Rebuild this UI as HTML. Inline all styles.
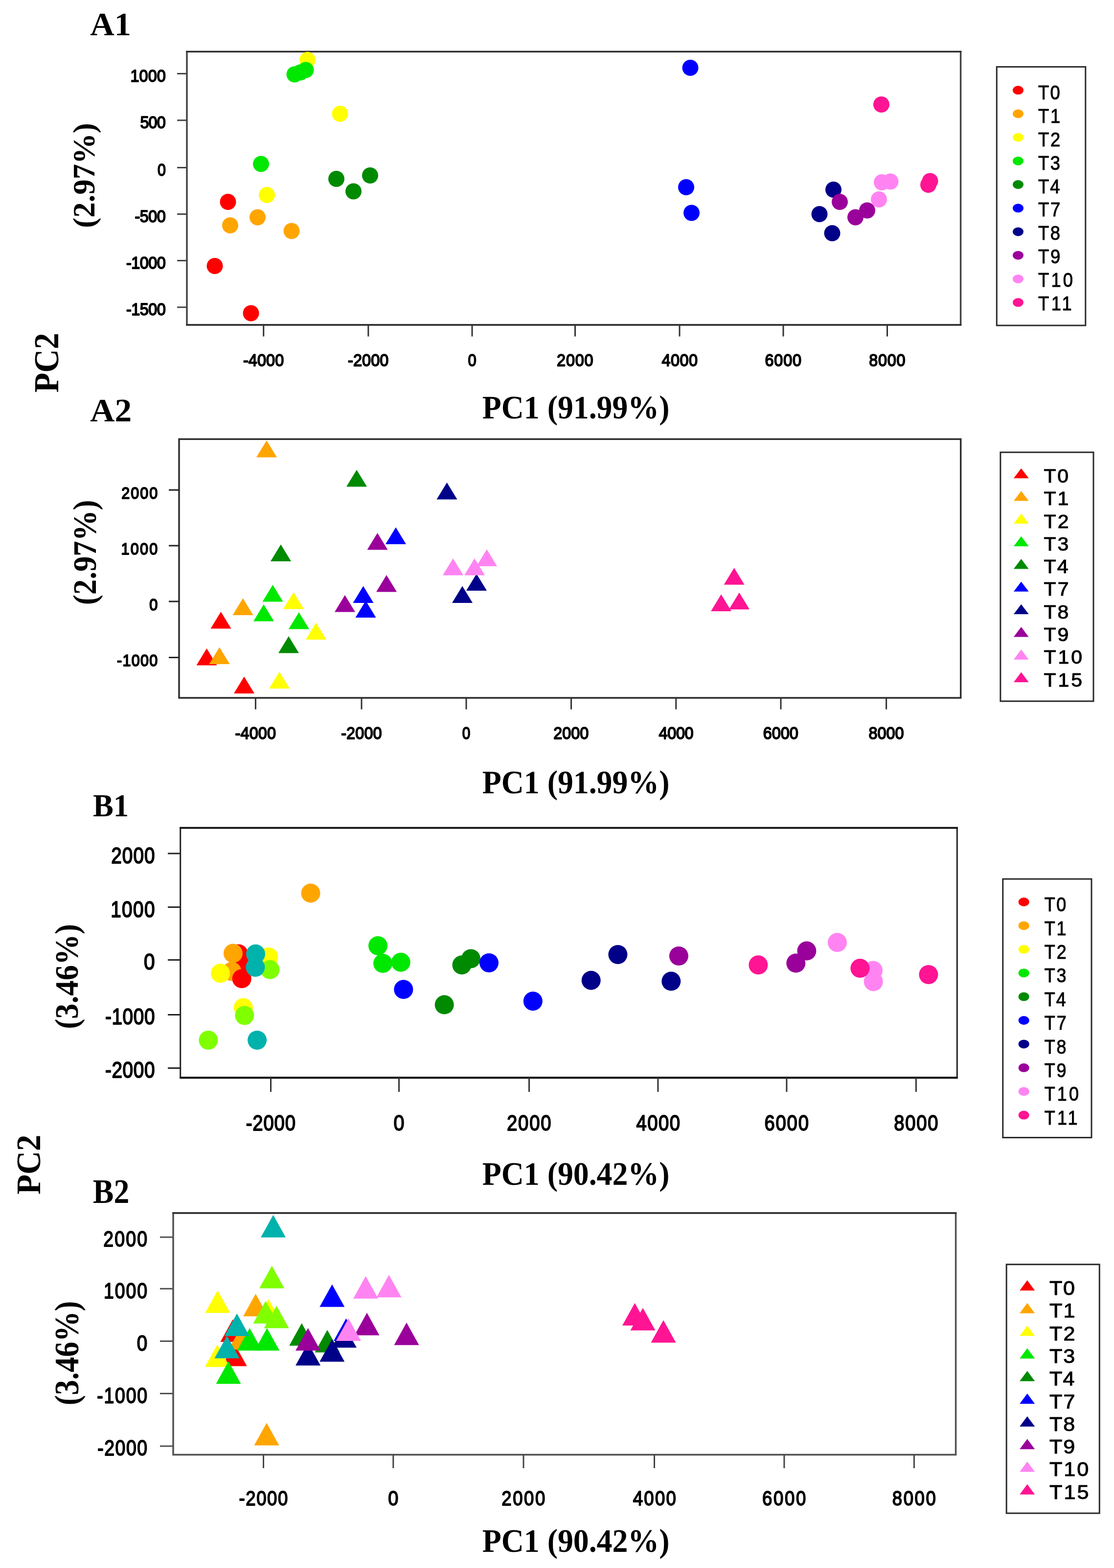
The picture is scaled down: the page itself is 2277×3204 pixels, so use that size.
<!DOCTYPE html>
<html><head><meta charset="utf-8"><title>PCA score plots</title>
<style>html,body{margin:0;padding:0;background:#fff;}svg{display:block;}</style>
</head><body>
<svg width="2277" height="3204" viewBox="0 0 2277 3204">
<rect width="2277" height="3204" fill="#fff"/>
<rect x="382.00" y="105.50" width="1581.60" height="558.30" fill="none" stroke="#444444" stroke-width="3.50"/>
<line x1="380.30" y1="105.50" x2="1965.30" y2="105.50" stroke="#2a2a2a" stroke-width="3.20"/>
<line x1="380.30" y1="663.80" x2="1965.30" y2="663.80" stroke="#333333" stroke-width="3.50"/>
<line x1="362.00" y1="150.50" x2="382.00" y2="150.50" stroke="#444444" stroke-width="3.00"/>
<text transform="scale(0.9000 1)" x="296.15" y="166.60" font-family='"Liberation Sans", Arial, sans-serif' font-weight="normal" font-size="36.00" letter-spacing="0.095" fill="#000" stroke="#000" stroke-width="2.00" stroke-linejoin="round">1000</text>
<line x1="362.00" y1="245.80" x2="382.00" y2="245.80" stroke="#444444" stroke-width="3.00"/>
<text transform="scale(0.9000 1)" x="318.23" y="261.90" font-family='"Liberation Sans", Arial, sans-serif' font-weight="normal" font-size="36.00" letter-spacing="-0.886" fill="#000" stroke="#000" stroke-width="2.00" stroke-linejoin="round">500</text>
<line x1="362.00" y1="342.50" x2="382.00" y2="342.50" stroke="#444444" stroke-width="3.00"/>
<text transform="scale(0.8426 1)" x="382.06" y="358.60" font-family='"Liberation Sans", Arial, sans-serif' font-weight="normal" font-size="36.00" letter-spacing="0.000" fill="#000" stroke="#000" stroke-width="2.00" stroke-linejoin="round">0</text>
<line x1="362.00" y1="437.50" x2="382.00" y2="437.50" stroke="#444444" stroke-width="3.00"/>
<text transform="scale(0.9000 1)" x="306.07" y="453.60" font-family='"Liberation Sans", Arial, sans-serif' font-weight="normal" font-size="36.00" letter-spacing="-0.534" fill="#000" stroke="#000" stroke-width="2.00" stroke-linejoin="round">-500</text>
<line x1="362.00" y1="532.50" x2="382.00" y2="532.50" stroke="#444444" stroke-width="3.00"/>
<text transform="scale(0.9000 1)" x="286.62" y="548.60" font-family='"Liberation Sans", Arial, sans-serif' font-weight="normal" font-size="36.00" letter-spacing="-0.545" fill="#000" stroke="#000" stroke-width="2.00" stroke-linejoin="round">-1000</text>
<line x1="362.00" y1="627.80" x2="382.00" y2="627.80" stroke="#444444" stroke-width="3.00"/>
<text transform="scale(0.9000 1)" x="286.62" y="643.90" font-family='"Liberation Sans", Arial, sans-serif' font-weight="normal" font-size="36.00" letter-spacing="-0.545" fill="#000" stroke="#000" stroke-width="2.00" stroke-linejoin="round">-1500</text>
<line x1="538.70" y1="663.80" x2="538.70" y2="687.50" stroke="#333333" stroke-width="3.00"/>
<text transform="scale(0.9000 1)" x="552.12" y="748.50" font-family='"Liberation Sans", Arial, sans-serif' font-weight="normal" font-size="36.00" letter-spacing="0.150" fill="#000" stroke="#000" stroke-width="2.00" stroke-linejoin="round">-4000</text>
<line x1="752.80" y1="663.80" x2="752.80" y2="687.50" stroke="#333333" stroke-width="3.00"/>
<text transform="scale(0.9000 1)" x="790.01" y="748.50" font-family='"Liberation Sans", Arial, sans-serif' font-weight="normal" font-size="36.00" letter-spacing="0.150" fill="#000" stroke="#000" stroke-width="2.00" stroke-linejoin="round">-2000</text>
<line x1="965.00" y1="663.80" x2="965.00" y2="687.50" stroke="#333333" stroke-width="3.00"/>
<text transform="scale(0.8542 1)" x="1119.69" y="748.50" font-family='"Liberation Sans", Arial, sans-serif' font-weight="normal" font-size="36.00" letter-spacing="0.000" fill="#000" stroke="#000" stroke-width="2.00" stroke-linejoin="round">0</text>
<line x1="1175.50" y1="663.80" x2="1175.50" y2="687.50" stroke="#333333" stroke-width="3.00"/>
<text transform="scale(0.9000 1)" x="1264.52" y="748.50" font-family='"Liberation Sans", Arial, sans-serif' font-weight="normal" font-size="36.00" letter-spacing="0.895" fill="#000" stroke="#000" stroke-width="2.00" stroke-linejoin="round">2000</text>
<line x1="1389.00" y1="663.80" x2="1389.00" y2="687.50" stroke="#333333" stroke-width="3.00"/>
<text transform="scale(0.9000 1)" x="1502.73" y="748.50" font-family='"Liberation Sans", Arial, sans-serif' font-weight="normal" font-size="36.00" letter-spacing="0.567" fill="#000" stroke="#000" stroke-width="2.00" stroke-linejoin="round">4000</text>
<line x1="1601.00" y1="663.80" x2="1601.00" y2="687.50" stroke="#333333" stroke-width="3.00"/>
<text transform="scale(0.9000 1)" x="1737.28" y="748.50" font-family='"Liberation Sans", Arial, sans-serif' font-weight="normal" font-size="36.00" letter-spacing="0.901" fill="#000" stroke="#000" stroke-width="2.00" stroke-linejoin="round">6000</text>
<line x1="1813.50" y1="663.80" x2="1813.50" y2="687.50" stroke="#333333" stroke-width="3.00"/>
<text transform="scale(0.9000 1)" x="1973.66" y="748.50" font-family='"Liberation Sans", Arial, sans-serif' font-weight="normal" font-size="36.00" letter-spacing="0.813" fill="#000" stroke="#000" stroke-width="2.00" stroke-linejoin="round">8000</text>
<circle cx="466.00" cy="412.50" r="16.50" fill="#FF0000"/>
<circle cx="439.00" cy="543.50" r="16.50" fill="#FF0000"/>
<circle cx="513.00" cy="640.00" r="16.50" fill="#FF0000"/>
<circle cx="526.50" cy="444.00" r="16.50" fill="#FFA500"/>
<circle cx="470.50" cy="460.50" r="16.50" fill="#FFA500"/>
<circle cx="596.00" cy="472.00" r="16.50" fill="#FFA500"/>
<circle cx="628.50" cy="122.50" r="16.50" fill="#FFFF00"/>
<circle cx="695.00" cy="232.50" r="16.50" fill="#FFFF00"/>
<circle cx="545.50" cy="398.50" r="16.50" fill="#FFFF00"/>
<circle cx="602.00" cy="152.00" r="16.50" fill="#00E800"/>
<circle cx="614.00" cy="148.00" r="16.50" fill="#00E800"/>
<circle cx="625.00" cy="143.00" r="16.50" fill="#00E800"/>
<circle cx="533.50" cy="335.00" r="16.50" fill="#00E800"/>
<circle cx="687.50" cy="365.50" r="16.50" fill="#008A00"/>
<circle cx="722.50" cy="391.00" r="16.50" fill="#008A00"/>
<circle cx="756.50" cy="358.50" r="16.50" fill="#008A00"/>
<circle cx="1411.00" cy="138.50" r="16.50" fill="#0000FF"/>
<circle cx="1402.50" cy="382.50" r="16.50" fill="#0000FF"/>
<circle cx="1413.50" cy="435.00" r="16.50" fill="#0000FF"/>
<circle cx="1703.50" cy="387.50" r="16.50" fill="#000088"/>
<circle cx="1675.00" cy="437.50" r="16.50" fill="#000088"/>
<circle cx="1701.00" cy="476.50" r="16.50" fill="#000088"/>
<circle cx="1716.50" cy="412.50" r="16.50" fill="#9A009A"/>
<circle cx="1748.50" cy="444.00" r="16.50" fill="#9A009A"/>
<circle cx="1772.50" cy="430.00" r="16.50" fill="#9A009A"/>
<circle cx="1802.50" cy="372.50" r="16.50" fill="#FF84F2"/>
<circle cx="1820.00" cy="371.00" r="16.50" fill="#FF84F2"/>
<circle cx="1796.50" cy="407.50" r="16.50" fill="#FF84F2"/>
<circle cx="1801.50" cy="213.50" r="16.50" fill="#FF1493"/>
<circle cx="1901.00" cy="370.00" r="16.50" fill="#FF1493"/>
<circle cx="1897.50" cy="377.50" r="16.50" fill="#FF1493"/>
<rect x="2037.30" y="136.60" width="181.50" height="528.40" fill="none" stroke="#2a2a2a" stroke-width="3.00"/>
<ellipse cx="2081.00" cy="184.30" rx="11.00" ry="9.00" fill="#FF0000"/>
<text transform="scale(0.9000 1)" x="2357.92" y="203.00" font-family='"Liberation Sans", Arial, sans-serif' font-weight="normal" font-size="40.50" letter-spacing="2.451" fill="#000" stroke="#000" stroke-width="1.00" stroke-linejoin="round">T0</text>
<ellipse cx="2081.00" cy="232.50" rx="11.00" ry="9.00" fill="#FFA500"/>
<text transform="scale(0.9000 1)" x="2357.92" y="250.90" font-family='"Liberation Sans", Arial, sans-serif' font-weight="normal" font-size="40.50" letter-spacing="2.846" fill="#000" stroke="#000" stroke-width="1.00" stroke-linejoin="round">T1</text>
<ellipse cx="2081.00" cy="280.70" rx="11.00" ry="9.00" fill="#FFFF00"/>
<text transform="scale(0.9000 1)" x="2357.92" y="298.80" font-family='"Liberation Sans", Arial, sans-serif' font-weight="normal" font-size="40.50" letter-spacing="2.906" fill="#000" stroke="#000" stroke-width="1.00" stroke-linejoin="round">T2</text>
<ellipse cx="2081.00" cy="328.90" rx="11.00" ry="9.00" fill="#00E800"/>
<text transform="scale(0.9000 1)" x="2357.92" y="346.70" font-family='"Liberation Sans", Arial, sans-serif' font-weight="normal" font-size="40.50" letter-spacing="2.648" fill="#000" stroke="#000" stroke-width="1.00" stroke-linejoin="round">T3</text>
<ellipse cx="2081.00" cy="377.10" rx="11.00" ry="9.00" fill="#008A00"/>
<text transform="scale(0.9000 1)" x="2357.92" y="394.60" font-family='"Liberation Sans", Arial, sans-serif' font-weight="normal" font-size="40.50" letter-spacing="2.055" fill="#000" stroke="#000" stroke-width="1.00" stroke-linejoin="round">T4</text>
<ellipse cx="2081.00" cy="425.30" rx="11.00" ry="9.00" fill="#0000FF"/>
<text transform="scale(0.9000 1)" x="2357.92" y="442.50" font-family='"Liberation Sans", Arial, sans-serif' font-weight="normal" font-size="40.50" letter-spacing="2.906" fill="#000" stroke="#000" stroke-width="1.00" stroke-linejoin="round">T7</text>
<ellipse cx="2081.00" cy="473.50" rx="11.00" ry="9.00" fill="#000088"/>
<text transform="scale(0.9000 1)" x="2357.92" y="490.40" font-family='"Liberation Sans", Arial, sans-serif' font-weight="normal" font-size="40.50" letter-spacing="2.629" fill="#000" stroke="#000" stroke-width="1.00" stroke-linejoin="round">T8</text>
<ellipse cx="2081.00" cy="521.70" rx="11.00" ry="9.00" fill="#9A009A"/>
<text transform="scale(0.9000 1)" x="2357.92" y="538.30" font-family='"Liberation Sans", Arial, sans-serif' font-weight="normal" font-size="40.50" letter-spacing="2.787" fill="#000" stroke="#000" stroke-width="1.00" stroke-linejoin="round">T9</text>
<ellipse cx="2081.00" cy="569.90" rx="11.00" ry="9.00" fill="#FF84F2"/>
<text transform="scale(0.9000 1)" x="2357.92" y="586.20" font-family='"Liberation Sans", Arial, sans-serif' font-weight="normal" font-size="40.50" letter-spacing="4.574" fill="#000" stroke="#000" stroke-width="1.00" stroke-linejoin="round">T10</text>
<ellipse cx="2081.00" cy="618.10" rx="11.00" ry="9.00" fill="#FF1493"/>
<text transform="scale(0.9000 1)" x="2357.92" y="634.10" font-family='"Liberation Sans", Arial, sans-serif' font-weight="normal" font-size="40.50" letter-spacing="4.772" fill="#000" stroke="#000" stroke-width="1.00" stroke-linejoin="round">T11</text>
<rect x="366.00" y="897.30" width="1597.70" height="528.70" fill="none" stroke="#2e2e2e" stroke-width="3.50"/>
<line x1="345.00" y1="1001.20" x2="366.00" y2="1001.20" stroke="#222222" stroke-width="3.00"/>
<text transform="scale(0.9000 1)" x="275.96" y="1019.20" font-family='"Liberation Sans", Arial, sans-serif' font-weight="normal" font-size="34.00" letter-spacing="2.171" fill="#000" stroke="#000" stroke-width="2.00" stroke-linejoin="round">2000</text>
<line x1="345.00" y1="1115.00" x2="366.00" y2="1115.00" stroke="#222222" stroke-width="3.00"/>
<text transform="scale(0.9000 1)" x="275.08" y="1133.00" font-family='"Liberation Sans", Arial, sans-serif' font-weight="normal" font-size="34.00" letter-spacing="2.464" fill="#000" stroke="#000" stroke-width="2.00" stroke-linejoin="round">1000</text>
<line x1="345.00" y1="1229.00" x2="366.00" y2="1229.00" stroke="#222222" stroke-width="3.00"/>
<text transform="scale(0.9045 1)" x="337.44" y="1247.00" font-family='"Liberation Sans", Arial, sans-serif' font-weight="normal" font-size="34.00" letter-spacing="0.000" fill="#000" stroke="#000" stroke-width="2.00" stroke-linejoin="round">0</text>
<line x1="345.00" y1="1343.50" x2="366.00" y2="1343.50" stroke="#222222" stroke-width="3.00"/>
<text transform="scale(0.9000 1)" x="265.60" y="1361.50" font-family='"Liberation Sans", Arial, sans-serif' font-weight="normal" font-size="34.00" letter-spacing="1.387" fill="#000" stroke="#000" stroke-width="2.00" stroke-linejoin="round">-1000</text>
<line x1="522.40" y1="1426.00" x2="522.40" y2="1449.50" stroke="#333333" stroke-width="3.00"/>
<text transform="scale(0.9000 1)" x="534.01" y="1510.50" font-family='"Liberation Sans", Arial, sans-serif' font-weight="normal" font-size="36.00" letter-spacing="0.150" fill="#000" stroke="#000" stroke-width="2.00" stroke-linejoin="round">-4000</text>
<line x1="739.00" y1="1426.00" x2="739.00" y2="1449.50" stroke="#333333" stroke-width="3.00"/>
<text transform="scale(0.9000 1)" x="774.68" y="1510.50" font-family='"Liberation Sans", Arial, sans-serif' font-weight="normal" font-size="36.00" letter-spacing="0.150" fill="#000" stroke="#000" stroke-width="2.00" stroke-linejoin="round">-2000</text>
<line x1="953.00" y1="1426.00" x2="953.00" y2="1449.50" stroke="#333333" stroke-width="3.00"/>
<text transform="scale(0.8252 1)" x="1144.93" y="1510.50" font-family='"Liberation Sans", Arial, sans-serif' font-weight="normal" font-size="36.00" letter-spacing="0.000" fill="#000" stroke="#000" stroke-width="2.00" stroke-linejoin="round">0</text>
<line x1="1167.50" y1="1426.00" x2="1167.50" y2="1449.50" stroke="#333333" stroke-width="3.00"/>
<text transform="scale(0.9000 1)" x="1256.97" y="1510.50" font-family='"Liberation Sans", Arial, sans-serif' font-weight="normal" font-size="36.00" letter-spacing="0.007" fill="#000" stroke="#000" stroke-width="2.00" stroke-linejoin="round">2000</text>
<line x1="1381.80" y1="1426.00" x2="1381.80" y2="1449.50" stroke="#333333" stroke-width="3.00"/>
<text transform="scale(0.9000 1)" x="1496.06" y="1510.50" font-family='"Liberation Sans", Arial, sans-serif' font-weight="normal" font-size="36.00" letter-spacing="-0.322" fill="#000" stroke="#000" stroke-width="2.00" stroke-linejoin="round">4000</text>
<line x1="1596.00" y1="1426.00" x2="1596.00" y2="1449.50" stroke="#333333" stroke-width="3.00"/>
<text transform="scale(0.9000 1)" x="1733.06" y="1510.50" font-family='"Liberation Sans", Arial, sans-serif' font-weight="normal" font-size="36.00" letter-spacing="0.012" fill="#000" stroke="#000" stroke-width="2.00" stroke-linejoin="round">6000</text>
<line x1="1811.60" y1="1426.00" x2="1811.60" y2="1449.50" stroke="#333333" stroke-width="3.00"/>
<text transform="scale(0.9000 1)" x="1972.88" y="1510.50" font-family='"Liberation Sans", Arial, sans-serif' font-weight="normal" font-size="36.00" letter-spacing="-0.075" fill="#000" stroke="#000" stroke-width="2.00" stroke-linejoin="round">8000</text>
<polygon points="451.50,1250.00 472.50,1284.50 430.50,1284.50" fill="#FF0000"/>
<polygon points="422.50,1325.00 443.50,1359.50 401.50,1359.50" fill="#FF0000"/>
<polygon points="499.00,1382.50 520.00,1417.00 478.00,1417.00" fill="#FF0000"/>
<polygon points="545.00,900.00 566.00,934.50 524.00,934.50" fill="#FFA500"/>
<polygon points="496.50,1222.50 517.50,1257.00 475.50,1257.00" fill="#FFA500"/>
<polygon points="448.50,1322.50 469.50,1357.00 427.50,1357.00" fill="#FFA500"/>
<polygon points="600.00,1210.00 621.00,1244.50 579.00,1244.50" fill="#FFFF00"/>
<polygon points="646.00,1272.50 667.00,1307.00 625.00,1307.00" fill="#FFFF00"/>
<polygon points="571.00,1372.50 592.00,1407.00 550.00,1407.00" fill="#FFFF00"/>
<polygon points="557.50,1195.00 578.50,1229.50 536.50,1229.50" fill="#00E800"/>
<polygon points="539.00,1235.00 560.00,1269.50 518.00,1269.50" fill="#00E800"/>
<polygon points="611.00,1251.00 632.00,1285.50 590.00,1285.50" fill="#00E800"/>
<polygon points="729.00,960.00 750.00,994.50 708.00,994.50" fill="#008A00"/>
<polygon points="574.00,1112.50 595.00,1147.00 553.00,1147.00" fill="#008A00"/>
<polygon points="590.00,1300.00 611.00,1334.50 569.00,1334.50" fill="#008A00"/>
<polygon points="809.00,1077.50 830.00,1112.00 788.00,1112.00" fill="#0000FF"/>
<polygon points="742.50,1197.50 763.50,1232.00 721.50,1232.00" fill="#0000FF"/>
<polygon points="747.50,1227.50 768.50,1262.00 726.50,1262.00" fill="#0000FF"/>
<polygon points="913.50,986.00 934.50,1020.50 892.50,1020.50" fill="#000088"/>
<polygon points="974.00,1172.50 995.00,1207.00 953.00,1207.00" fill="#000088"/>
<polygon points="945.00,1197.50 966.00,1232.00 924.00,1232.00" fill="#000088"/>
<polygon points="771.50,1089.00 792.50,1123.50 750.50,1123.50" fill="#9A009A"/>
<polygon points="790.00,1175.00 811.00,1209.50 769.00,1209.50" fill="#9A009A"/>
<polygon points="705.00,1216.00 726.00,1250.50 684.00,1250.50" fill="#9A009A"/>
<polygon points="926.00,1141.00 947.00,1175.50 905.00,1175.50" fill="#FF84F2"/>
<polygon points="970.00,1141.00 991.00,1175.50 949.00,1175.50" fill="#FF84F2"/>
<polygon points="995.00,1122.50 1016.00,1157.00 974.00,1157.00" fill="#FF84F2"/>
<polygon points="1500.60,1160.20 1521.60,1194.70 1479.60,1194.70" fill="#FF1493"/>
<polygon points="1474.00,1214.40 1495.00,1248.90 1453.00,1248.90" fill="#FF1493"/>
<polygon points="1511.00,1210.70 1532.00,1245.20 1490.00,1245.20" fill="#FF1493"/>
<rect x="2044.90" y="924.20" width="190.10" height="508.60" fill="none" stroke="#2a2a2a" stroke-width="3.00"/>
<polygon points="2087.30,956.90 2102.65,977.30 2071.95,977.30" fill="#FF0000"/>
<text transform="scale(1.0800 1)" x="1975.57" y="986.00" font-family='"Liberation Sans", Arial, sans-serif' font-weight="normal" font-size="38.00" letter-spacing="2.363" fill="#000" stroke="#000" stroke-width="1.00" stroke-linejoin="round">T0</text>
<polygon points="2087.30,1003.20 2102.65,1023.60 2071.95,1023.60" fill="#FFA500"/>
<text transform="scale(1.0800 1)" x="1975.57" y="1032.30" font-family='"Liberation Sans", Arial, sans-serif' font-weight="normal" font-size="38.00" letter-spacing="2.734" fill="#000" stroke="#000" stroke-width="1.00" stroke-linejoin="round">T1</text>
<polygon points="2087.30,1049.50 2102.65,1069.90 2071.95,1069.90" fill="#FFFF00"/>
<text transform="scale(1.0800 1)" x="1975.57" y="1078.60" font-family='"Liberation Sans", Arial, sans-serif' font-weight="normal" font-size="38.00" letter-spacing="2.789" fill="#000" stroke="#000" stroke-width="1.00" stroke-linejoin="round">T2</text>
<polygon points="2087.30,1095.80 2102.65,1116.20 2071.95,1116.20" fill="#00E800"/>
<text transform="scale(1.0800 1)" x="1975.57" y="1124.90" font-family='"Liberation Sans", Arial, sans-serif' font-weight="normal" font-size="38.00" letter-spacing="2.548" fill="#000" stroke="#000" stroke-width="1.00" stroke-linejoin="round">T3</text>
<polygon points="2087.30,1142.10 2102.65,1162.50 2071.95,1162.50" fill="#008A00"/>
<text transform="scale(1.0800 1)" x="1975.57" y="1171.20" font-family='"Liberation Sans", Arial, sans-serif' font-weight="normal" font-size="38.00" letter-spacing="1.991" fill="#000" stroke="#000" stroke-width="1.00" stroke-linejoin="round">T4</text>
<polygon points="2087.30,1188.40 2102.65,1208.80 2071.95,1208.80" fill="#0000FF"/>
<text transform="scale(1.0800 1)" x="1975.57" y="1217.50" font-family='"Liberation Sans", Arial, sans-serif' font-weight="normal" font-size="38.00" letter-spacing="2.789" fill="#000" stroke="#000" stroke-width="1.00" stroke-linejoin="round">T7</text>
<polygon points="2087.30,1234.70 2102.65,1255.10 2071.95,1255.10" fill="#000088"/>
<text transform="scale(1.0800 1)" x="1975.57" y="1263.80" font-family='"Liberation Sans", Arial, sans-serif' font-weight="normal" font-size="38.00" letter-spacing="2.530" fill="#000" stroke="#000" stroke-width="1.00" stroke-linejoin="round">T8</text>
<polygon points="2087.30,1281.00 2102.65,1301.40 2071.95,1301.40" fill="#9A009A"/>
<text transform="scale(1.0800 1)" x="1975.57" y="1310.10" font-family='"Liberation Sans", Arial, sans-serif' font-weight="normal" font-size="38.00" letter-spacing="2.678" fill="#000" stroke="#000" stroke-width="1.00" stroke-linejoin="round">T9</text>
<polygon points="2087.30,1327.30 2102.65,1347.70 2071.95,1347.70" fill="#FF84F2"/>
<text transform="scale(1.0800 1)" x="1975.57" y="1356.40" font-family='"Liberation Sans", Arial, sans-serif' font-weight="normal" font-size="38.00" letter-spacing="3.577" fill="#000" stroke="#000" stroke-width="1.00" stroke-linejoin="round">T10</text>
<polygon points="2087.30,1373.60 2102.65,1394.00 2071.95,1394.00" fill="#FF1493"/>
<text transform="scale(1.0800 1)" x="1975.57" y="1402.70" font-family='"Liberation Sans", Arial, sans-serif' font-weight="normal" font-size="38.00" letter-spacing="3.633" fill="#000" stroke="#000" stroke-width="1.00" stroke-linejoin="round">T15</text>
<rect x="368.70" y="1691.60" width="1587.60" height="510.00" fill="none" stroke="#222222" stroke-width="3.00"/>
<line x1="367.20" y1="1691.60" x2="1957.80" y2="1691.60" stroke="#111" stroke-width="3.80"/>
<line x1="367.20" y1="2202.40" x2="1957.80" y2="2202.40" stroke="#111" stroke-width="3.80"/>
<line x1="343.00" y1="1744.00" x2="368.70" y2="1744.00" stroke="#222222" stroke-width="3.00"/>
<text transform="scale(0.8500 1)" x="267.25" y="1764.00" font-family='"Liberation Sans", Arial, sans-serif' font-weight="normal" font-size="45.50" letter-spacing="1.296" fill="#000" stroke="#000" stroke-width="1.90" stroke-linejoin="round">2000</text>
<line x1="343.00" y1="1853.60" x2="368.70" y2="1853.60" stroke="#222222" stroke-width="3.00"/>
<text transform="scale(0.8500 1)" x="266.07" y="1873.60" font-family='"Liberation Sans", Arial, sans-serif' font-weight="normal" font-size="45.50" letter-spacing="1.688" fill="#000" stroke="#000" stroke-width="1.90" stroke-linejoin="round">1000</text>
<line x1="343.00" y1="1961.50" x2="368.70" y2="1961.50" stroke="#222222" stroke-width="3.00"/>
<text transform="scale(0.8913 1)" x="329.90" y="1981.50" font-family='"Liberation Sans", Arial, sans-serif' font-weight="normal" font-size="45.50" letter-spacing="0.000" fill="#000" stroke="#000" stroke-width="1.90" stroke-linejoin="round">0</text>
<line x1="343.00" y1="2073.50" x2="368.70" y2="2073.50" stroke="#222222" stroke-width="3.00"/>
<text transform="scale(0.8500 1)" x="252.81" y="2093.50" font-family='"Liberation Sans", Arial, sans-serif' font-weight="normal" font-size="45.50" letter-spacing="0.794" fill="#000" stroke="#000" stroke-width="1.90" stroke-linejoin="round">-1000</text>
<line x1="343.00" y1="2182.50" x2="368.70" y2="2182.50" stroke="#222222" stroke-width="3.00"/>
<text transform="scale(0.8500 1)" x="252.81" y="2202.50" font-family='"Liberation Sans", Arial, sans-serif' font-weight="normal" font-size="45.50" letter-spacing="0.794" fill="#000" stroke="#000" stroke-width="1.90" stroke-linejoin="round">-2000</text>
<line x1="553.50" y1="2201.60" x2="553.50" y2="2231.00" stroke="#333333" stroke-width="3.00"/>
<text transform="scale(0.8500 1)" x="591.48" y="2310.50" font-family='"Liberation Sans", Arial, sans-serif' font-weight="normal" font-size="45.00" letter-spacing="1.015" fill="#000" stroke="#000" stroke-width="1.90" stroke-linejoin="round">-2000</text>
<line x1="815.50" y1="2201.60" x2="815.50" y2="2231.00" stroke="#333333" stroke-width="3.00"/>
<text transform="scale(0.8779 1)" x="916.39" y="2310.50" font-family='"Liberation Sans", Arial, sans-serif' font-weight="normal" font-size="45.00" letter-spacing="0.000" fill="#000" stroke="#000" stroke-width="1.90" stroke-linejoin="round">0</text>
<line x1="1081.50" y1="2201.60" x2="1081.50" y2="2231.00" stroke="#333333" stroke-width="3.00"/>
<text transform="scale(0.8500 1)" x="1218.86" y="2310.50" font-family='"Liberation Sans", Arial, sans-serif' font-weight="normal" font-size="45.00" letter-spacing="2.122" fill="#000" stroke="#000" stroke-width="1.90" stroke-linejoin="round">2000</text>
<line x1="1344.90" y1="2201.60" x2="1344.90" y2="2231.00" stroke="#333333" stroke-width="3.00"/>
<text transform="scale(0.8500 1)" x="1529.98" y="2310.50" font-family='"Liberation Sans", Arial, sans-serif' font-weight="normal" font-size="45.00" letter-spacing="1.712" fill="#000" stroke="#000" stroke-width="1.90" stroke-linejoin="round">4000</text>
<line x1="1607.90" y1="2201.60" x2="1607.90" y2="2231.00" stroke="#333333" stroke-width="3.00"/>
<text transform="scale(0.8500 1)" x="1838.14" y="2310.50" font-family='"Liberation Sans", Arial, sans-serif' font-weight="normal" font-size="45.00" letter-spacing="2.129" fill="#000" stroke="#000" stroke-width="1.90" stroke-linejoin="round">6000</text>
<line x1="1872.40" y1="2201.60" x2="1872.40" y2="2231.00" stroke="#333333" stroke-width="3.00"/>
<text transform="scale(0.8500 1)" x="2149.64" y="2310.50" font-family='"Liberation Sans", Arial, sans-serif' font-weight="normal" font-size="45.00" letter-spacing="2.020" fill="#000" stroke="#000" stroke-width="1.90" stroke-linejoin="round">8000</text>
<circle cx="487.50" cy="1949.00" r="19.50" fill="#FF0000"/>
<circle cx="495.50" cy="1971.50" r="19.50" fill="#FF0000"/>
<circle cx="476.40" cy="1948.00" r="19.50" fill="#FFA500"/>
<circle cx="473.90" cy="1985.00" r="19.50" fill="#FFA500"/>
<circle cx="494.20" cy="1999.80" r="19.50" fill="#FF0000"/>
<circle cx="635.00" cy="1825.00" r="19.50" fill="#FFA500"/>
<circle cx="450.50" cy="1988.70" r="19.50" fill="#FFFF00"/>
<circle cx="549.00" cy="1955.40" r="19.50" fill="#FFFF00"/>
<circle cx="497.30" cy="2058.90" r="19.50" fill="#FFFF00"/>
<circle cx="772.50" cy="1932.50" r="19.50" fill="#00E800"/>
<circle cx="782.50" cy="1968.50" r="19.50" fill="#00E800"/>
<circle cx="819.20" cy="1966.30" r="19.50" fill="#00E800"/>
<circle cx="944.00" cy="1971.80" r="19.50" fill="#008A00"/>
<circle cx="962.50" cy="1958.90" r="19.50" fill="#008A00"/>
<circle cx="908.20" cy="2053.10" r="19.50" fill="#008A00"/>
<circle cx="552.00" cy="1981.30" r="19.50" fill="#7FFF00"/>
<circle cx="499.80" cy="2074.90" r="19.50" fill="#7FFF00"/>
<circle cx="425.90" cy="2125.40" r="19.50" fill="#7FFF00"/>
<circle cx="522.50" cy="1949.30" r="19.50" fill="#00B2AC"/>
<circle cx="521.90" cy="1976.40" r="19.50" fill="#00B2AC"/>
<circle cx="525.60" cy="2125.40" r="19.50" fill="#00B2AC"/>
<circle cx="824.80" cy="2021.70" r="19.50" fill="#0000FF"/>
<circle cx="999.50" cy="1967.40" r="19.50" fill="#0000FF"/>
<circle cx="1089.30" cy="2045.70" r="19.50" fill="#0000FF"/>
<circle cx="1208.20" cy="2003.20" r="19.50" fill="#000088"/>
<circle cx="1262.90" cy="1950.40" r="19.50" fill="#000088"/>
<circle cx="1371.80" cy="2005.10" r="19.50" fill="#000088"/>
<circle cx="1387.40" cy="1953.40" r="19.50" fill="#9A009A"/>
<circle cx="1626.80" cy="1968.10" r="19.50" fill="#9A009A"/>
<circle cx="1648.90" cy="1943.00" r="19.50" fill="#9A009A"/>
<circle cx="1711.40" cy="1925.70" r="19.50" fill="#FF84F2"/>
<circle cx="1784.50" cy="1982.90" r="19.50" fill="#FF84F2"/>
<circle cx="1785.20" cy="2005.80" r="19.50" fill="#FF84F2"/>
<circle cx="1549.90" cy="1971.80" r="19.50" fill="#FF1493"/>
<circle cx="1757.90" cy="1978.50" r="19.50" fill="#FF1493"/>
<circle cx="1897.90" cy="1991.40" r="19.50" fill="#FF1493"/>
<rect x="2049.80" y="1796.10" width="181.20" height="528.40" fill="none" stroke="#2a2a2a" stroke-width="3.00"/>
<ellipse cx="2092.70" cy="1843.00" rx="11.00" ry="9.00" fill="#FF0000"/>
<text transform="scale(0.9000 1)" x="2371.82" y="1862.30" font-family='"Liberation Sans", Arial, sans-serif' font-weight="normal" font-size="40.00" letter-spacing="2.892" fill="#000" stroke="#000" stroke-width="1.00" stroke-linejoin="round">T0</text>
<ellipse cx="2092.70" cy="1891.40" rx="11.00" ry="9.00" fill="#FFA500"/>
<text transform="scale(0.9000 1)" x="2371.82" y="1910.70" font-family='"Liberation Sans", Arial, sans-serif' font-weight="normal" font-size="40.00" letter-spacing="3.283" fill="#000" stroke="#000" stroke-width="1.00" stroke-linejoin="round">T1</text>
<ellipse cx="2092.70" cy="1939.80" rx="11.00" ry="9.00" fill="#FFFF00"/>
<text transform="scale(0.9000 1)" x="2371.82" y="1959.10" font-family='"Liberation Sans", Arial, sans-serif' font-weight="normal" font-size="40.00" letter-spacing="3.342" fill="#000" stroke="#000" stroke-width="1.00" stroke-linejoin="round">T2</text>
<ellipse cx="2092.70" cy="1988.20" rx="11.00" ry="9.00" fill="#00E800"/>
<text transform="scale(0.9000 1)" x="2371.82" y="2007.50" font-family='"Liberation Sans", Arial, sans-serif' font-weight="normal" font-size="40.00" letter-spacing="3.088" fill="#000" stroke="#000" stroke-width="1.00" stroke-linejoin="round">T3</text>
<ellipse cx="2092.70" cy="2036.60" rx="11.00" ry="9.00" fill="#008A00"/>
<text transform="scale(0.9000 1)" x="2371.82" y="2055.90" font-family='"Liberation Sans", Arial, sans-serif' font-weight="normal" font-size="40.00" letter-spacing="2.502" fill="#000" stroke="#000" stroke-width="1.00" stroke-linejoin="round">T4</text>
<ellipse cx="2092.70" cy="2085.00" rx="11.00" ry="9.00" fill="#0000FF"/>
<text transform="scale(0.9000 1)" x="2371.82" y="2104.30" font-family='"Liberation Sans", Arial, sans-serif' font-weight="normal" font-size="40.00" letter-spacing="3.342" fill="#000" stroke="#000" stroke-width="1.00" stroke-linejoin="round">T7</text>
<ellipse cx="2092.70" cy="2133.40" rx="11.00" ry="9.00" fill="#000088"/>
<text transform="scale(0.9000 1)" x="2371.82" y="2152.70" font-family='"Liberation Sans", Arial, sans-serif' font-weight="normal" font-size="40.00" letter-spacing="3.068" fill="#000" stroke="#000" stroke-width="1.00" stroke-linejoin="round">T8</text>
<ellipse cx="2092.70" cy="2181.80" rx="11.00" ry="9.00" fill="#9A009A"/>
<text transform="scale(0.9000 1)" x="2371.82" y="2201.10" font-family='"Liberation Sans", Arial, sans-serif' font-weight="normal" font-size="40.00" letter-spacing="3.224" fill="#000" stroke="#000" stroke-width="1.00" stroke-linejoin="round">T9</text>
<ellipse cx="2092.70" cy="2230.20" rx="11.00" ry="9.00" fill="#FF84F2"/>
<text transform="scale(0.9000 1)" x="2371.82" y="2249.50" font-family='"Liberation Sans", Arial, sans-serif' font-weight="normal" font-size="40.00" letter-spacing="4.601" fill="#000" stroke="#000" stroke-width="1.00" stroke-linejoin="round">T10</text>
<ellipse cx="2092.70" cy="2278.60" rx="11.00" ry="9.00" fill="#FF1493"/>
<text transform="scale(0.9000 1)" x="2371.82" y="2297.90" font-family='"Liberation Sans", Arial, sans-serif' font-weight="normal" font-size="40.00" letter-spacing="4.796" fill="#000" stroke="#000" stroke-width="1.00" stroke-linejoin="round">T11</text>
<rect x="354.00" y="2478.60" width="1599.60" height="493.90" fill="none" stroke="#505050" stroke-width="3.50"/>
<line x1="352.30" y1="2478.60" x2="1955.30" y2="2478.60" stroke="#2a2a2a" stroke-width="3.20"/>
<line x1="327.00" y1="2528.00" x2="354.00" y2="2528.00" stroke="#505050" stroke-width="3.00"/>
<text transform="scale(0.8500 1)" x="248.50" y="2547.50" font-family='"Liberation Sans", Arial, sans-serif' font-weight="normal" font-size="44.00" letter-spacing="2.638" fill="#000" stroke="#000" stroke-width="1.90" stroke-linejoin="round">2000</text>
<line x1="327.00" y1="2633.30" x2="354.00" y2="2633.30" stroke="#505050" stroke-width="3.00"/>
<text transform="scale(0.8500 1)" x="249.36" y="2652.80" font-family='"Liberation Sans", Arial, sans-serif' font-weight="normal" font-size="44.00" letter-spacing="2.351" fill="#000" stroke="#000" stroke-width="1.90" stroke-linejoin="round">1000</text>
<line x1="327.00" y1="2740.50" x2="354.00" y2="2740.50" stroke="#505050" stroke-width="3.00"/>
<text transform="scale(0.8741 1)" x="320.11" y="2760.00" font-family='"Liberation Sans", Arial, sans-serif' font-weight="normal" font-size="44.00" letter-spacing="0.000" fill="#000" stroke="#000" stroke-width="1.90" stroke-linejoin="round">0</text>
<line x1="327.00" y1="2847.50" x2="354.00" y2="2847.50" stroke="#505050" stroke-width="3.00"/>
<text transform="scale(0.8500 1)" x="233.11" y="2867.00" font-family='"Liberation Sans", Arial, sans-serif' font-weight="normal" font-size="44.00" letter-spacing="2.163" fill="#000" stroke="#000" stroke-width="1.90" stroke-linejoin="round">-1000</text>
<line x1="327.00" y1="2955.00" x2="354.00" y2="2955.00" stroke="#505050" stroke-width="3.00"/>
<text transform="scale(0.8500 1)" x="234.29" y="2974.50" font-family='"Liberation Sans", Arial, sans-serif' font-weight="normal" font-size="44.00" letter-spacing="1.868" fill="#000" stroke="#000" stroke-width="1.90" stroke-linejoin="round">-2000</text>
<line x1="538.50" y1="2972.50" x2="538.50" y2="3000.00" stroke="#444444" stroke-width="3.00"/>
<text transform="scale(0.8500 1)" x="574.63" y="3076.00" font-family='"Liberation Sans", Arial, sans-serif' font-weight="normal" font-size="43.00" letter-spacing="1.899" fill="#000" stroke="#000" stroke-width="1.90" stroke-linejoin="round">-2000</text>
<line x1="803.80" y1="2972.50" x2="803.80" y2="3000.00" stroke="#444444" stroke-width="3.00"/>
<text transform="scale(0.8798 1)" x="901.63" y="3076.00" font-family='"Liberation Sans", Arial, sans-serif' font-weight="normal" font-size="43.00" letter-spacing="0.000" fill="#000" stroke="#000" stroke-width="1.90" stroke-linejoin="round">0</text>
<line x1="1070.00" y1="2972.50" x2="1070.00" y2="3000.00" stroke="#444444" stroke-width="3.00"/>
<text transform="scale(0.8500 1)" x="1206.14" y="3076.00" font-family='"Liberation Sans", Arial, sans-serif' font-weight="normal" font-size="43.00" letter-spacing="3.075" fill="#000" stroke="#000" stroke-width="1.90" stroke-linejoin="round">2000</text>
<line x1="1337.50" y1="2972.50" x2="1337.50" y2="3000.00" stroke="#444444" stroke-width="3.00"/>
<text transform="scale(0.8500 1)" x="1522.02" y="3076.00" font-family='"Liberation Sans", Arial, sans-serif' font-weight="normal" font-size="43.00" letter-spacing="2.683" fill="#000" stroke="#000" stroke-width="1.90" stroke-linejoin="round">4000</text>
<line x1="1602.90" y1="2972.50" x2="1602.90" y2="3000.00" stroke="#444444" stroke-width="3.00"/>
<text transform="scale(0.8500 1)" x="1833.06" y="3076.00" font-family='"Liberation Sans", Arial, sans-serif' font-weight="normal" font-size="43.00" letter-spacing="3.082" fill="#000" stroke="#000" stroke-width="1.90" stroke-linejoin="round">6000</text>
<line x1="1868.40" y1="2972.50" x2="1868.40" y2="3000.00" stroke="#444444" stroke-width="3.00"/>
<text transform="scale(0.8500 1)" x="2145.73" y="3076.00" font-family='"Liberation Sans", Arial, sans-serif' font-weight="normal" font-size="43.00" letter-spacing="2.977" fill="#000" stroke="#000" stroke-width="1.90" stroke-linejoin="round">8000</text>
<polygon points="475.90,2696.00 501.40,2742.00 450.40,2742.00" fill="#FF0000"/>
<polygon points="479.20,2745.60 504.70,2791.60 453.70,2791.60" fill="#FF0000"/>
<polygon points="522.60,2643.70 548.10,2689.70 497.10,2689.70" fill="#FFA500"/>
<polygon points="492.60,2711.70 518.10,2757.70 467.10,2757.70" fill="#FFA500"/>
<polygon points="545.00,2907.50 570.50,2953.50 519.50,2953.50" fill="#FFA500"/>
<polygon points="444.90,2636.80 470.40,2682.80 419.40,2682.80" fill="#FFFF00"/>
<polygon points="548.80,2654.20 574.30,2700.20 523.30,2700.20" fill="#FFFF00"/>
<polygon points="444.30,2747.20 469.80,2793.20 418.80,2793.20" fill="#FFFF00"/>
<polygon points="510.30,2713.70 535.80,2759.70 484.80,2759.70" fill="#00E800"/>
<polygon points="545.80,2713.70 571.30,2759.70 520.30,2759.70" fill="#00E800"/>
<polygon points="467.00,2781.70 492.50,2827.70 441.50,2827.70" fill="#00E800"/>
<polygon points="616.70,2703.80 642.20,2749.80 591.20,2749.80" fill="#008A00"/>
<polygon points="669.00,2717.60 694.50,2763.60 643.50,2763.60" fill="#008A00"/>
<polygon points="555.70,2586.60 581.20,2632.60 530.20,2632.60" fill="#7FFF00"/>
<polygon points="542.90,2658.50 568.40,2704.50 517.40,2704.50" fill="#7FFF00"/>
<polygon points="565.10,2668.00 590.60,2714.00 539.60,2714.00" fill="#7FFF00"/>
<polygon points="558.50,2482.50 584.00,2528.50 533.00,2528.50" fill="#00B2AC"/>
<polygon points="484.30,2684.10 509.80,2730.10 458.80,2730.10" fill="#00B2AC"/>
<polygon points="464.00,2729.50 489.50,2775.50 438.50,2775.50" fill="#00B2AC"/>
<polygon points="678.80,2624.60 704.30,2670.60 653.30,2670.60" fill="#0000FF"/>
<polygon points="707.40,2694.00 732.90,2740.00 681.90,2740.00" fill="#0000FF"/>
<polygon points="629.60,2744.20 655.10,2790.20 604.10,2790.20" fill="#000088"/>
<polygon points="678.80,2736.40 704.30,2782.40 653.30,2782.40" fill="#000088"/>
<polygon points="703.40,2707.80 728.90,2753.80 677.90,2753.80" fill="#000088"/>
<polygon points="629.60,2713.70 655.10,2759.70 604.10,2759.70" fill="#9A009A"/>
<polygon points="750.00,2682.50 775.50,2728.50 724.50,2728.50" fill="#9A009A"/>
<polygon points="831.00,2702.50 856.50,2748.50 805.50,2748.50" fill="#9A009A"/>
<polygon points="747.50,2607.50 773.00,2653.50 722.00,2653.50" fill="#FF84F2"/>
<polygon points="795.00,2605.00 820.50,2651.00 769.50,2651.00" fill="#FF84F2"/>
<polygon points="712.30,2694.00 737.80,2740.00 686.80,2740.00" fill="#FF84F2"/>
<polygon points="1297.50,2662.50 1323.00,2708.50 1272.00,2708.50" fill="#FF1493"/>
<polygon points="1314.00,2672.50 1339.50,2718.50 1288.50,2718.50" fill="#FF1493"/>
<polygon points="1356.00,2697.50 1381.50,2743.50 1330.50,2743.50" fill="#FF1493"/>
<rect x="2057.20" y="2583.70" width="190.10" height="508.40" fill="none" stroke="#2a2a2a" stroke-width="3.00"/>
<polygon points="2099.70,2616.10 2115.20,2637.10 2084.20,2637.10" fill="#FF0000"/>
<text transform="scale(1.0800 1)" x="1986.18" y="2646.10" font-family='"Liberation Sans", Arial, sans-serif' font-weight="normal" font-size="40.00" letter-spacing="1.448" fill="#000" stroke="#000" stroke-width="1.00" stroke-linejoin="round">T0</text>
<polygon points="2099.70,2662.40 2115.20,2683.40 2084.20,2683.40" fill="#FFA500"/>
<text transform="scale(1.0800 1)" x="1986.18" y="2692.40" font-family='"Liberation Sans", Arial, sans-serif' font-weight="normal" font-size="40.00" letter-spacing="1.839" fill="#000" stroke="#000" stroke-width="1.00" stroke-linejoin="round">T1</text>
<polygon points="2099.70,2708.70 2115.20,2729.70 2084.20,2729.70" fill="#FFFF00"/>
<text transform="scale(1.0800 1)" x="1986.18" y="2738.70" font-family='"Liberation Sans", Arial, sans-serif' font-weight="normal" font-size="40.00" letter-spacing="1.897" fill="#000" stroke="#000" stroke-width="1.00" stroke-linejoin="round">T2</text>
<polygon points="2099.70,2755.00 2115.20,2776.00 2084.20,2776.00" fill="#00E800"/>
<text transform="scale(1.0800 1)" x="1986.18" y="2785.00" font-family='"Liberation Sans", Arial, sans-serif' font-weight="normal" font-size="40.00" letter-spacing="1.643" fill="#000" stroke="#000" stroke-width="1.00" stroke-linejoin="round">T3</text>
<polygon points="2099.70,2801.30 2115.20,2822.30 2084.20,2822.30" fill="#008A00"/>
<text transform="scale(1.0800 1)" x="1986.18" y="2831.30" font-family='"Liberation Sans", Arial, sans-serif' font-weight="normal" font-size="40.00" letter-spacing="1.057" fill="#000" stroke="#000" stroke-width="1.00" stroke-linejoin="round">T4</text>
<polygon points="2099.70,2847.60 2115.20,2868.60 2084.20,2868.60" fill="#0000FF"/>
<text transform="scale(1.0800 1)" x="1986.18" y="2877.60" font-family='"Liberation Sans", Arial, sans-serif' font-weight="normal" font-size="40.00" letter-spacing="1.897" fill="#000" stroke="#000" stroke-width="1.00" stroke-linejoin="round">T7</text>
<polygon points="2099.70,2893.90 2115.20,2914.90 2084.20,2914.90" fill="#000088"/>
<text transform="scale(1.0800 1)" x="1986.18" y="2923.90" font-family='"Liberation Sans", Arial, sans-serif' font-weight="normal" font-size="40.00" letter-spacing="1.624" fill="#000" stroke="#000" stroke-width="1.00" stroke-linejoin="round">T8</text>
<polygon points="2099.70,2940.20 2115.20,2961.20 2084.20,2961.20" fill="#9A009A"/>
<text transform="scale(1.0800 1)" x="1986.18" y="2970.20" font-family='"Liberation Sans", Arial, sans-serif' font-weight="normal" font-size="40.00" letter-spacing="1.780" fill="#000" stroke="#000" stroke-width="1.00" stroke-linejoin="round">T9</text>
<polygon points="2099.70,2986.50 2115.20,3007.50 2084.20,3007.50" fill="#FF84F2"/>
<text transform="scale(1.0800 1)" x="1986.18" y="3016.50" font-family='"Liberation Sans", Arial, sans-serif' font-weight="normal" font-size="40.00" letter-spacing="2.703" fill="#000" stroke="#000" stroke-width="1.00" stroke-linejoin="round">T10</text>
<polygon points="2099.70,3032.80 2115.20,3053.80 2084.20,3053.80" fill="#FF1493"/>
<text transform="scale(1.0800 1)" x="1986.18" y="3062.80" font-family='"Liberation Sans", Arial, sans-serif' font-weight="normal" font-size="40.00" letter-spacing="2.761" fill="#000" stroke="#000" stroke-width="1.00" stroke-linejoin="round">T15</text>
<text x="184.33" y="72.00" font-family='"Liberation Serif", serif' font-weight="bold" font-size="67.63" textLength="83.71" lengthAdjust="spacingAndGlyphs" fill="#000">A1</text>
<text x="184.32" y="861.20" font-family='"Liberation Serif", serif' font-weight="bold" font-size="68.70" textLength="84.86" lengthAdjust="spacingAndGlyphs" fill="#000">A2</text>
<text x="189.96" y="1667.50" font-family='"Liberation Serif", serif' font-weight="bold" font-size="66.41" textLength="73.29" lengthAdjust="spacingAndGlyphs" fill="#000">B1</text>
<text x="189.84" y="2458.10" font-family='"Liberation Serif", serif' font-weight="bold" font-size="69.47" textLength="74.50" lengthAdjust="spacingAndGlyphs" fill="#000">B2</text>
<text x="985.81" y="855.40" font-family='"Liberation Serif", serif' font-weight="bold" font-size="67.79" textLength="382.59" lengthAdjust="spacingAndGlyphs" fill="#000">PC1 (91.99%)</text>
<text x="985.81" y="1620.90" font-family='"Liberation Serif", serif' font-weight="bold" font-size="68.55" textLength="382.59" lengthAdjust="spacingAndGlyphs" fill="#000">PC1 (91.99%)</text>
<text x="985.81" y="2420.90" font-family='"Liberation Serif", serif' font-weight="bold" font-size="68.55" textLength="382.59" lengthAdjust="spacingAndGlyphs" fill="#000">PC1 (90.42%)</text>
<text x="985.81" y="3170.90" font-family='"Liberation Serif", serif' font-weight="bold" font-size="68.55" textLength="382.59" lengthAdjust="spacingAndGlyphs" fill="#000">PC1 (90.42%)</text>
<text transform="translate(193.00 465.76) rotate(-90)" x="-0.00" y="0" font-family='"Liberation Serif", serif' font-weight="bold" font-size="64.12" textLength="214.52" lengthAdjust="spacingAndGlyphs" fill="#000">(2.97%)</text>
<text transform="translate(195.60 1236.16) rotate(-90)" x="-0.00" y="0" font-family='"Liberation Serif", serif' font-weight="bold" font-size="68.70" textLength="214.62" lengthAdjust="spacingAndGlyphs" fill="#000">(2.97%)</text>
<text transform="translate(159.40 2102.86) rotate(-90)" x="-0.00" y="0" font-family='"Liberation Serif", serif' font-weight="bold" font-size="68.70" textLength="214.83" lengthAdjust="spacingAndGlyphs" fill="#000">(3.46%)</text>
<text transform="translate(159.70 2871.44) rotate(-90)" x="-0.00" y="0" font-family='"Liberation Serif", serif' font-weight="bold" font-size="69.47" textLength="212.98" lengthAdjust="spacingAndGlyphs" fill="#000">(3.46%)</text>
<text transform="translate(118.80 802.14) rotate(-90)" x="-0.00" y="0" font-family='"Liberation Serif", serif' font-weight="bold" font-size="70.99" textLength="122.00" lengthAdjust="spacingAndGlyphs" fill="#000">PC2</text>
<text transform="translate(82.00 2440.84) rotate(-90)" x="-0.00" y="0" font-family='"Liberation Serif", serif' font-weight="bold" font-size="70.69" textLength="122.31" lengthAdjust="spacingAndGlyphs" fill="#000">PC2</text>
</svg>
</body></html>
